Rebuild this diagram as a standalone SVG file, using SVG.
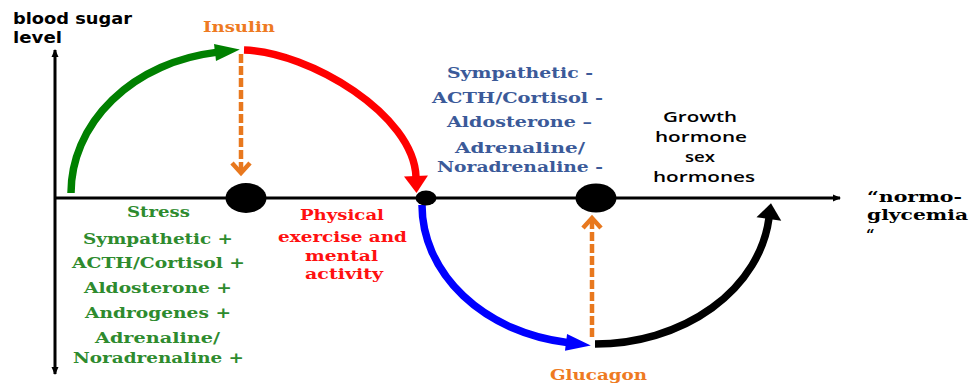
<svg xmlns="http://www.w3.org/2000/svg" width="971" height="385" viewBox="0 0 971 385">
  <style>
    .serif { font-family: "DejaVu Serif", "Liberation Serif", serif; font-weight: bold; font-size: 15px; }
    .sans { font-family: "DejaVu Sans", "Liberation Sans", sans-serif; font-weight: bold; font-size: 15px; }
    .med { font-family: "Open Sans", "DejaVu Sans", sans-serif; font-weight: 600; font-size: 15px; }
    .green { fill: #2E8B2E; }
    .blue { fill: #3B5A99; }
    .red { fill: #FF1010; }
    .orange { fill: #EE7A22; }
    .black { fill: #000000; }
    .axis { stroke: #000; stroke-width: 3; fill: none; }
    .arc { fill: none; stroke-width: 7.5; }
    .dash { fill: none; stroke: #E8781E; stroke-width: 4.5; stroke-dasharray: 9 3; }
    .chev { fill: none; stroke: #E8781E; stroke-width: 4.5; stroke-linejoin: miter; }
    .node { fill: #000; }
  </style>
  <defs>
    <marker id="ax" markerUnits="userSpaceOnUse" markerWidth="8" markerHeight="8" refX="7" refY="3.5" orient="auto-start-reverse" overflow="visible">
      <path d="M0,0 L8,3.5 L0,7 z" fill="#000"/>
    </marker>
    <marker id="mk-green" markerUnits="userSpaceOnUse" markerWidth="26" markerHeight="18" refX="1" refY="8.5" orient="auto" overflow="visible">
      <path d="M0,0 L25,8.5 L0,17 z" fill="#008000"/>
    </marker>
    <marker id="mk-blue" markerUnits="userSpaceOnUse" markerWidth="26" markerHeight="18" refX="1" refY="8.5" orient="auto" overflow="visible">
      <path d="M0,0 L25,8.5 L0,17 z" fill="#0000FF"/>
    </marker>
    <marker id="mk-red" markerUnits="userSpaceOnUse" markerWidth="18" markerHeight="25" refX="1" refY="12" orient="auto" overflow="visible">
      <path d="M0,0 L17,12 L0,24 z" fill="#FF0000"/>
    </marker>
    <marker id="mk-black" markerUnits="userSpaceOnUse" markerWidth="18" markerHeight="25" refX="1" refY="12.5" orient="auto" overflow="visible">
      <path d="M0,0 L16,12.5 L0,25 z" fill="#000"/>
    </marker>
  </defs>

  <g id="axes">
    <path class="axis" d="M55,50 L55,374" marker-start="url(#ax)" marker-end="url(#ax)"/>
    <path class="axis" d="M55,198 L840,198" marker-end="url(#ax)"/>
    <text class="sans black" x="13" y="24" textLength="119" lengthAdjust="spacingAndGlyphs">blood sugar</text>
    <text class="sans black" x="13" y="43" textLength="49" lengthAdjust="spacingAndGlyphs">level</text>
    <text class="serif black" font-size="16" x="867" y="202" textLength="95" lengthAdjust="spacingAndGlyphs">“normo-</text>
    <text class="serif black" font-size="16" x="867" y="220" textLength="101" lengthAdjust="spacingAndGlyphs">glycemia</text>
    <text class="serif black" font-size="16" x="866" y="240">“</text>
  </g>

  <g id="connectors">
    <path class="arc" stroke="#008000" d="M71,193 A169,142 0 0 1 216,52.4" marker-end="url(#mk-green)"/>
    <path class="arc" stroke="#FF0000" d="M244,50 C310,52 414,115 416,177" marker-end="url(#mk-red)"/>
    <path class="arc" stroke="#0000FF" d="M422,205 A170,139 0 0 0 567,342.5" marker-end="url(#mk-blue)"/>
    <path class="arc" stroke="#000000" d="M595,344 A175,141 0 0 0 769,218" marker-end="url(#mk-black)"/>
    <g id="insulin-arrow">
      <path class="dash" d="M241,54 L241,172"/>
      <polyline class="chev" points="232,163 241,173 250,163"/>
    </g>
    <g id="glucagon-arrow">
      <path class="dash" d="M592,337 L592,220"/>
      <polyline class="chev" points="583,228 592,218 601,228"/>
    </g>
  </g>

  <g id="node-stress-point">
    <ellipse class="node" cx="246" cy="198" rx="20.5" ry="15"/>
  </g>
  <g id="node-turn-point">
    <ellipse class="node" cx="426" cy="198" rx="10.5" ry="7.5"/>
  </g>
  <g id="node-glucagon-point">
    <ellipse class="node" cx="596" cy="198" rx="20.5" ry="14.5"/>
  </g>

  <g id="label-insulin">
    <text class="serif orange" font-size="16" x="203" y="32" textLength="72" lengthAdjust="spacingAndGlyphs">Insulin</text>
  </g>
  <g id="label-glucagon">
    <text class="serif orange" font-size="16" x="550" y="380" textLength="97" lengthAdjust="spacingAndGlyphs">Glucagon</text>
  </g>

  <g id="label-stress">
    <text class="serif green" x="127" y="217" textLength="63" lengthAdjust="spacingAndGlyphs">Stress</text>
    <text class="serif green" x="83" y="244" textLength="150" lengthAdjust="spacingAndGlyphs">Sympathetic +</text>
    <text class="serif green" x="72" y="268" textLength="173" lengthAdjust="spacingAndGlyphs">ACTH/Cortisol +</text>
    <text class="serif green" x="84" y="293" textLength="148" lengthAdjust="spacingAndGlyphs">Aldosterone +</text>
    <text class="serif green" x="85" y="318" textLength="146" lengthAdjust="spacingAndGlyphs">Androgenes +</text>
    <text class="serif green" x="95" y="343" textLength="125" lengthAdjust="spacingAndGlyphs">Adrenaline/</text>
    <text class="serif green" x="73" y="363" textLength="171" lengthAdjust="spacingAndGlyphs">Noradrenaline +</text>
  </g>

  <g id="label-exercise">
    <text class="serif red" x="300" y="220" textLength="84" lengthAdjust="spacingAndGlyphs">Physical</text>
    <text class="serif red" x="278" y="242" textLength="129" lengthAdjust="spacingAndGlyphs">exercise and</text>
    <text class="serif red" x="305" y="261" textLength="73" lengthAdjust="spacingAndGlyphs">mental</text>
    <text class="serif red" x="305" y="279" textLength="78" lengthAdjust="spacingAndGlyphs">activity</text>
  </g>

  <g id="label-counter">
    <text class="serif blue" x="447" y="78" textLength="146" lengthAdjust="spacingAndGlyphs">Sympathetic -</text>
    <text class="serif blue" x="432" y="103" textLength="171" lengthAdjust="spacingAndGlyphs">ACTH/Cortisol -</text>
    <text class="serif blue" x="447" y="127" textLength="145" lengthAdjust="spacingAndGlyphs">Aldosterone –</text>
    <text class="serif blue" x="455" y="153" textLength="130" lengthAdjust="spacingAndGlyphs">Adrenaline/</text>
    <text class="serif blue" x="437" y="172" textLength="166" lengthAdjust="spacingAndGlyphs">Noradrenaline -</text>
  </g>

  <g id="label-growth">
    <text class="med black" x="663" y="122" textLength="74" lengthAdjust="spacingAndGlyphs">Growth</text>
    <text class="med black" x="655" y="142" textLength="92" lengthAdjust="spacingAndGlyphs">hormone</text>
    <text class="med black" x="685" y="162" textLength="30" lengthAdjust="spacingAndGlyphs">sex</text>
    <text class="med black" x="653" y="182" textLength="102" lengthAdjust="spacingAndGlyphs">hormones</text>
  </g>
</svg>
